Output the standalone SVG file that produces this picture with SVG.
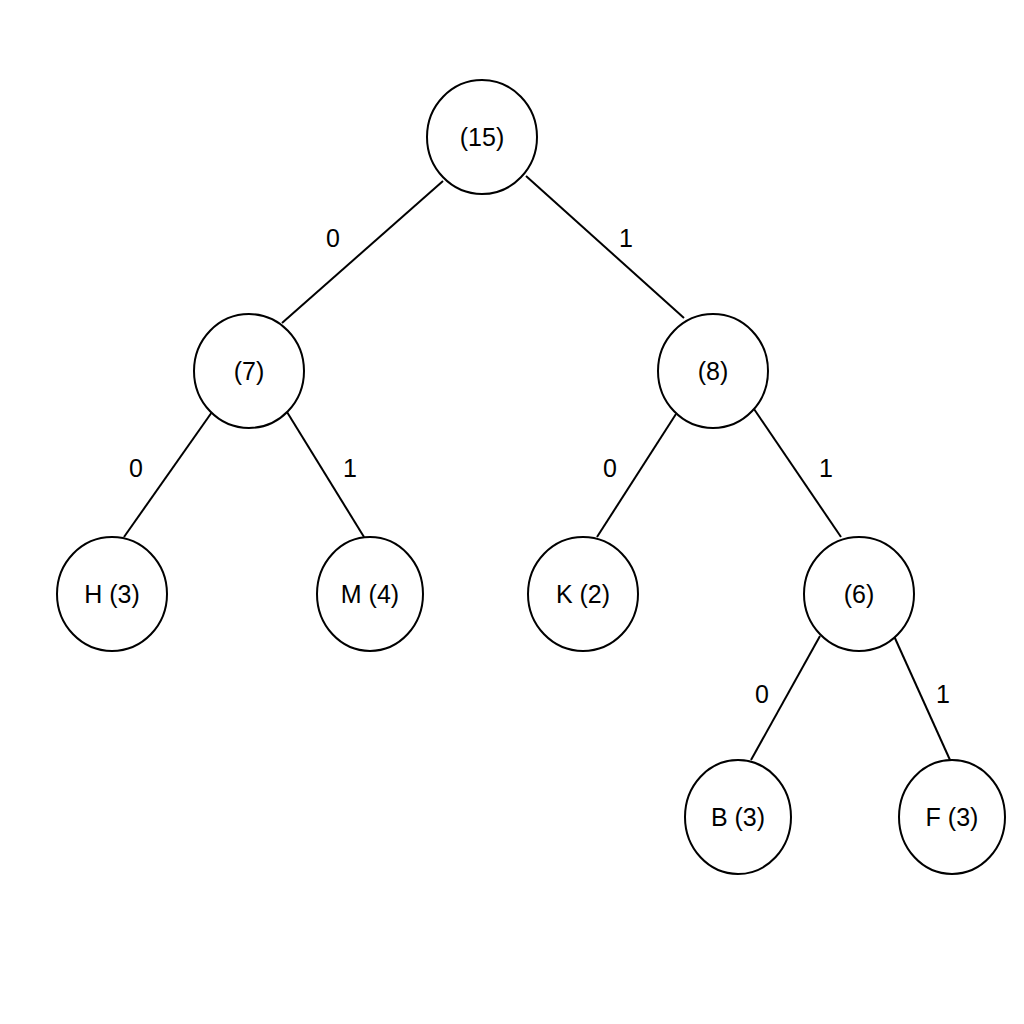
<svg xmlns="http://www.w3.org/2000/svg" width="1024" height="1024" viewBox="0 0 1024 1024">
<style>
.n{fill:#fff;stroke:#000;stroke-width:2}
.e{stroke:#000;stroke-width:2}
text{font-family:"Liberation Sans",Arial,sans-serif;font-size:25px;text-anchor:middle;dominant-baseline:central;fill:#000}
</style>
<rect width="1024" height="1024" fill="#fff"/>
<g id="connectors">
<line class="e" x1="443" y1="181" x2="282" y2="323"/>
<line class="e" x1="526" y1="176" x2="684" y2="318"/>
<line class="e" x1="212" y1="412" x2="124" y2="537"/>
<line class="e" x1="287" y1="412" x2="364" y2="537"/>
<line class="e" x1="676" y1="414" x2="597" y2="537"/>
<line class="e" x1="754" y1="409" x2="841" y2="537"/>
<line class="e" x1="820" y1="636" x2="751" y2="760"/>
<line class="e" x1="894" y1="636" x2="950" y2="760"/>
<text x="333" y="238">0</text>
<text x="626" y="238">1</text>
<text x="136" y="468">0</text>
<text x="350" y="468">1</text>
<text x="610" y="468">0</text>
<text x="826" y="468">1</text>
<text x="762" y="694">0</text>
<text x="943" y="694">1</text>
</g>
<g id="n15"><ellipse class="n" cx="482" cy="137" rx="55" ry="57"/><text x="482" y="137">(15)</text></g>
<g id="n7"><ellipse class="n" cx="249" cy="371" rx="55" ry="57"/><text x="249" y="371">(7)</text></g>
<g id="n8"><ellipse class="n" cx="713" cy="371" rx="55" ry="57"/><text x="713" y="371">(8)</text></g>
<g id="H"><ellipse class="n" cx="112" cy="594" rx="55" ry="57"/><text x="112" y="594">H (3)</text></g>
<g id="M"><ellipse class="n" cx="370" cy="594" rx="53" ry="57"/><text x="370" y="594">M (4)</text></g>
<g id="K"><ellipse class="n" cx="583" cy="594" rx="55" ry="57"/><text x="583" y="594">K (2)</text></g>
<g id="n6"><ellipse class="n" cx="859" cy="594" rx="55" ry="57"/><text x="859" y="594">(6)</text></g>
<g id="B"><ellipse class="n" cx="738" cy="817" rx="53" ry="57"/><text x="738" y="817">B (3)</text></g>
<g id="F"><ellipse class="n" cx="952" cy="817" rx="53" ry="57"/><text x="952" y="817">F (3)</text></g>
</svg>
